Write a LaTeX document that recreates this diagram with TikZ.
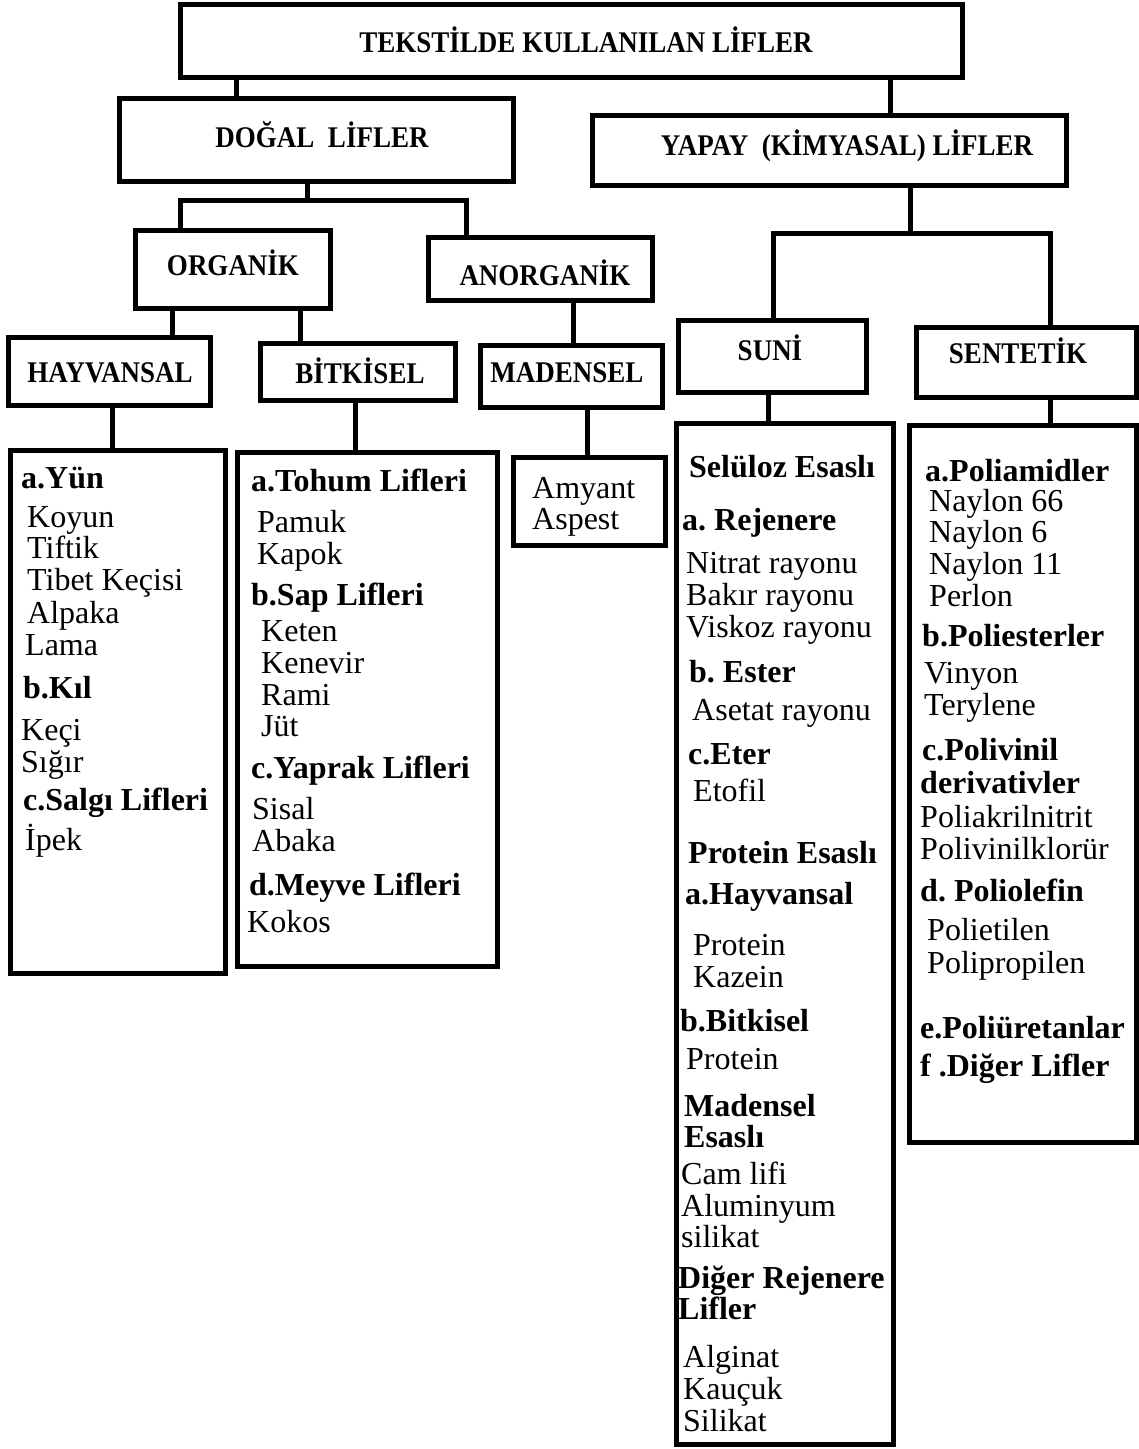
\documentclass[tikz,border=0pt]{standalone}
\usepackage{fontspec}
\setmainfont{Liberation Serif}
\newfontfamily\hdfont[FakeStretch=0.9]{Liberation Serif}
\frenchspacing
\tikzset{
  box/.style={draw, line width=5pt, inner sep=0pt},
  conn/.style={line width=5pt},
  hd/.style={anchor=base, inner sep=0pt, font=\hdfont\bfseries\fontsize{30}{31}\selectfont},
  it/.style={anchor=base west, inner sep=0pt, font=\fontsize{32}{33}\selectfont},
  bt/.style={anchor=base west, inner sep=0pt, font=\bfseries\fontsize{32}{33}\selectfont},
}
\newcommand\Li[4]{\node[it] (#1) at (#2,#3+10) {#4};}
\newcommand\Lb[4]{\node[bt] (#1) at (#2,#3+10) {#4};}
\newcommand\Bx[5]{\node[box, minimum width=#4-#2, minimum height=#5-#3] (#1) at ({(#2+#4)/2},{(#3+#5)/2}) {};}
\begin{document}
\begin{tikzpicture}[x=1pt,y=-1pt]
\useasboundingbox (0,0) rectangle (1139,1449);
% header boxes
\Bx{top}{180}{4}{962}{77}
\Bx{dogal}{119}{98}{513}{181}
\Bx{yapay}{592}{115}{1066}{185}
\Bx{org}{135}{230}{330}{308}
\Bx{anorg}{428}{237}{652}{300}
\Bx{hay}{8}{337}{210}{405}
\Bx{bit}{260}{343}{455}{400}
\Bx{mad}{480}{345}{662}{407}
\Bx{suni}{678}{320}{866}{392}
\Bx{sent}{916}{327}{1136}{397}
% list boxes
\Bx{hayL}{10}{450}{225}{973}
\Bx{bitL}{237}{452}{497}{966}
\Bx{madL}{513}{457}{665}{545}
\Bx{suniL}{676}{423}{893}{1444}
\Bx{sentL}{909}{425}{1136}{1142}
% header texts
\node[hd] (ttop) at (586,52) {TEKSTİLDE KULLANILAN LİFLER};
\node[hd] (tdogal) at (322,147) {DOĞAL\ \ LİFLER};
\node[hd] (tyapay) at (847,155) {YAPAY\ \ (KİMYASAL) LİFLER};
\node[hd] (torg) at (233,275) {ORGANİK};
\node[hd] (tanorg) at (545,285) {ANORGANİK};
\node[hd] (thay) at (110,382) {HAYVANSAL};
\node[hd] (tbit) at (360,383) {BİTKİSEL};
\node[hd] (tmad) at (567,382) {MADENSEL};
\node[hd] (tsuni) at (770,360) {SUNİ};
\node[hd] (tsent) at (1018,363) {SENTETİK};
% connectors
\draw[conn] (236,0 |- top.south) -- (236,0 |- dogal.north);
\draw[conn] (890,0 |- top.south) -- (890,0 |- yapay.north);
\coordinate (jd) at (307,200);
\draw[conn] (307,0 |- dogal.south) -- (jd);
\draw[conn] (180,0 |- org.north) -- (180,200) -- (466,200) -- (466,0 |- anorg.north);
\coordinate (jy) at (910,233);
\draw[conn] (910,0 |- yapay.south) -- (jy);
\draw[conn] (773,0 |- suni.north) -- (773,233) -- (1050,233) -- (1050,0 |- sent.north);
\draw[conn] (172,0 |- org.south) -- (172,0 |- hay.north);
\draw[conn] (300,0 |- org.south) -- (300,0 |- bit.north);
\draw[conn] (573,0 |- anorg.south) -- (573,0 |- mad.north);
\draw[conn] (112,0 |- hay.south) -- (112,0 |- hayL.north);
\draw[conn] (355,0 |- bit.south) -- (355,0 |- bitL.north);
\draw[conn] (587,0 |- mad.south) -- (587,0 |- madL.north);
\draw[conn] (768,0 |- suni.south) -- (768,0 |- suniL.north);
\draw[conn] (1050,0 |- sent.south) -- (1050,0 |- sentL.north);
% Hayvansal list
\Lb{h1}{21}{478}{a.Yün}
\Li{h2}{27}{517}{Koyun}
\Li{h3}{27}{548}{Tiftik}
\Li{h4}{27}{580}{Tibet Keçisi}
\Li{h5}{27}{613}{Alpaka}
\Li{h6}{25}{645}{Lama}
\Lb{h7}{23}{688}{b.Kıl}
\Li{h8}{21}{730}{Keçi}
\Li{h9}{21}{762}{Sığır}
\Lb{h10}{23}{800}{c.Salgı Lifleri}
\Li{h11}{25}{840}{İpek}
% Bitkisel list
\Lb{b1}{251}{481}{a.Tohum Lifleri}
\Li{b2}{257}{522}{Pamuk}
\Li{b3}{257}{554}{Kapok}
\Lb{b4}{251}{595}{b.Sap Lifleri}
\Li{b5}{261}{631}{Keten}
\Li{b6}{261}{663}{Kenevir}
\Li{b7}{261}{695}{Rami}
\Li{b8}{261}{726}{Jüt}
\Lb{b9}{251}{768}{c.Yaprak Lifleri}
\Li{b10}{252}{809}{Sisal}
\Li{b11}{252}{841}{Abaka}
\Lb{b12}{249}{885}{d.Meyve Lifleri}
\Li{b13}{247}{922}{Kokos}
% Madensel
\Li{m1}{532}{488}{Amyant}
\Li{m2}{532}{519}{Aspest}
% Suni list
\Lb{s1}{689}{467}{Selüloz Esaslı}
\Lb{s2}{682}{520}{a. Rejenere}
\Li{s3}{686}{563}{Nitrat rayonu}
\Li{s4}{686}{595}{Bakır rayonu}
\Li{s5}{686}{627}{Viskoz rayonu}
\Lb{s6}{689}{672}{b. Ester}
\Li{s7}{692}{710}{Asetat rayonu}
\Lb{s8}{688}{754}{c.Eter}
\Li{s9}{693}{791}{Etofil}
\Lb{s10}{688}{853}{Protein Esaslı}
\Lb{s11}{685}{894}{a.Hayvansal}
\Li{s12}{693}{945}{Protein}
\Li{s13}{693}{977}{Kazein}
\Lb{s14}{680}{1021}{b.Bitkisel}
\Li{s15}{686}{1059}{Protein}
\Lb{s16}{684}{1106}{Madensel}
\Lb{s17}{684}{1137}{Esaslı}
\Li{s18}{681}{1174}{Cam lifi}
\Li{s19}{681}{1206}{Aluminyum}
\Li{s20}{681}{1237}{silikat}
\Lb{s21}{678}{1278}{Diğer Rejenere}
\Lb{s22}{678}{1309}{Lifler}
\Li{s23}{683}{1357}{Alginat}
\Li{s24}{683}{1389}{Kauçuk}
\Li{s25}{683}{1421}{Silikat}
% Sentetik list
\Lb{t1}{925}{471}{a.Poliamidler}
\Li{t2}{929}{501}{Naylon 66}
\Li{t3}{929}{532}{Naylon 6}
\Li{t4}{929}{564}{Naylon 11}
\Li{t5}{929}{596}{Perlon}
\Lb{t6}{922}{636}{b.Poliesterler}
\Li{t7}{924}{673}{Vinyon}
\Li{t8}{924}{705}{Terylene}
\Lb{t9}{922}{750}{c.Polivinil}
\Lb{t10}{920}{783}{derivativler}
\Li{t11}{920}{817}{Poliakrilnitrit}
\Li{t12}{920}{849}{Polivinilklorür}
\Lb{t13}{920}{891}{d. Poliolefin}
\Li{t14}{927}{930}{Polietilen}
\Li{t15}{927}{963}{Polipropilen}
\Lb{t16}{920}{1028}{e.Poliüretanlar}
\Lb{t17}{920}{1066}{f .Diğer Lifler}
\end{tikzpicture}
\end{document}
